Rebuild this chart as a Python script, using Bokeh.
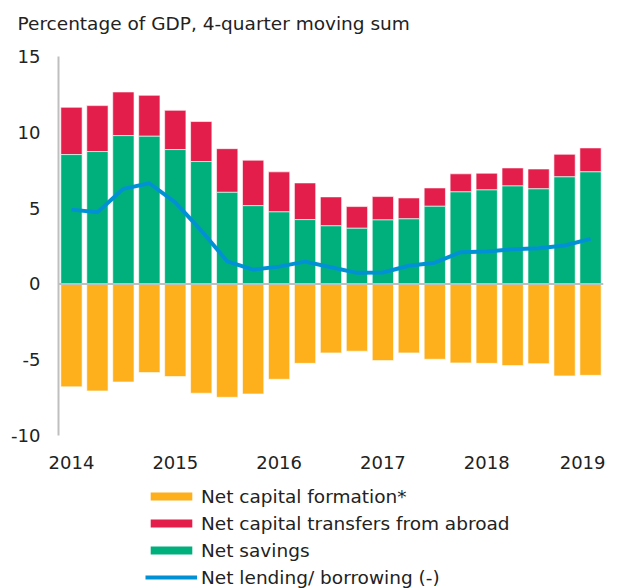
from bokeh.plotting import figure
from bokeh.layouts import column
from bokeh.models import ColumnDataSource, Span, Legend, LegendItem, FixedTicker, Range1d, Title
from bokeh.embed import file_html
from bokeh.resources import INLINE

# ---- data (percentage of GDP, 4-quarter moving sum) ----
quarter_index = list(range(21))  # 2014Q1 ... 2019Q1
net_savings = [8.53, 8.73, 9.78, 9.74, 8.86, 8.07, 6.04, 5.16, 4.75, 4.24, 3.83,
               3.67, 4.22, 4.29, 5.12, 6.07, 6.20, 6.46, 6.27, 7.06, 7.39]
net_capital_transfers = [3.12, 3.03, 2.88, 2.70, 2.59, 2.64, 2.88, 3.00, 2.64, 2.42, 1.91,
                         1.43, 1.54, 1.38, 1.21, 1.19, 1.10, 1.19, 1.31, 1.49, 1.58]
net_capital_formation = [-6.79, -7.06, -6.47, -5.85, -6.11, -7.21, -7.48, -7.26, -6.29, -5.24, -4.55,
                         -4.44, -5.06, -4.55, -4.97, -5.21, -5.24, -5.39, -5.26, -6.07, -6.03]
net_lending = [4.90, 4.73, 6.27, 6.64, 5.38, 3.52, 1.49, 0.94, 1.14, 1.47, 1.10,
               0.73, 0.75, 1.20, 1.40, 2.09, 2.13, 2.28, 2.35, 2.53, 2.97]
year_tick_positions = [0, 4, 8, 12, 16, 20]
year_labels = ["2014", "2015", "2016", "2017", "2018", "2019"]
y_ticks = [-10, -5, 0, 5, 10, 15]
legend_labels = ["Net capital formation*", "Net capital transfers from abroad",
                 "Net savings", "Net lending/ borrowing (-)"]
chart_title = "Percentage of GDP, 4-quarter moving sum"

ORANGE = "#FDB01B"
RED = "#E31E4B"
GREEN = "#00B07C"
BLUE = "#0091D5"
FONT = "DejaVu Sans"
TXT = "#222222"

src = ColumnDataSource(dict(
    x=quarter_index,
    sav_bottom=[0] * len(quarter_index),
    sav_top=net_savings,
    tr_bottom=net_savings,
    tr_top=[s + t for s, t in zip(net_savings, net_capital_transfers)],
    cf_top=[0] * len(quarter_index),
    cf_bottom=net_capital_formation,
    lend=net_lending,
))

p = figure(width=605, height=480, output_backend="svg", toolbar_location=None,
           x_range=Range1d(-0.5, 20.5), y_range=Range1d(-10, 15),
           min_border_left=58, min_border_right=2, min_border_top=56,
           min_border_bottom=45)

# spacer title (closest to the frame), then the real title above it
p.add_layout(Title(text=" ", text_font=FONT, text_font_size="16px", standoff=2), "above")
p.add_layout(Title(text=chart_title, text_font=FONT, text_font_size="18.5px",
                   text_font_style="normal", text_color=TXT, align="left",
                   offset=-41, standoff=0), "above")

bar_kw = dict(width=0.82, line_color="white", line_width=1, line_alpha=0.6)
r_cf = p.vbar(x="x", top="cf_top", bottom="cf_bottom", fill_color=ORANGE, source=src, **bar_kw)
r_tr = p.vbar(x="x", top="tr_top", bottom="tr_bottom", fill_color=RED, source=src, **bar_kw)
r_sav = p.vbar(x="x", top="sav_top", bottom="sav_bottom", fill_color=GREEN, source=src, **bar_kw)
r_line = p.line(x="x", y="lend", source=src, line_color=BLUE, line_width=4, line_join="round")

p.add_layout(Span(location=0, dimension="width", line_color="#BFBFBF", line_width=2))

p.xgrid.visible = False
p.ygrid.visible = False
p.outline_line_color = None

p.xaxis.ticker = FixedTicker(ticks=year_tick_positions)
p.xaxis.major_label_overrides = {t: l for t, l in zip(year_tick_positions, year_labels)}
p.xaxis.axis_line_color = None
p.xaxis.major_tick_line_color = None
p.xaxis.minor_tick_line_color = None
p.xaxis.major_tick_out = 0
p.xaxis.major_tick_in = 0
p.xaxis.minor_tick_out = 0
p.xaxis.major_label_standoff = 20
p.xaxis.major_label_text_font = FONT
p.xaxis.major_label_text_font_size = "18px"
p.xaxis.major_label_text_color = TXT

p.yaxis.ticker = FixedTicker(ticks=y_ticks)
p.yaxis.major_label_overrides = {t: str(t) for t in y_ticks}
p.yaxis.axis_line_color = "#BFBFBF"
p.yaxis.axis_line_width = 2
p.yaxis.major_tick_line_color = None
p.yaxis.minor_tick_line_color = None
p.yaxis.major_tick_out = 0
p.yaxis.major_tick_in = 0
p.yaxis.minor_tick_out = 0
p.yaxis.major_label_standoff = 18
p.yaxis.major_label_text_font = FONT
p.yaxis.major_label_text_font_size = "18px"
p.yaxis.major_label_text_color = TXT

# ---- legend panel (separate figure below the chart; its ranges show no data) ----
lg = figure(width=605, height=108, output_backend="svg", toolbar_location=None,
            x_range=Range1d(1000, 1001), y_range=Range1d(1000, 1001),
            x_axis_location=None, y_axis_location=None,
            min_border_left=0, min_border_right=0, min_border_top=0, min_border_bottom=0)
lg.grid.visible = False
lg.outline_line_color = None
l_cf = lg.vbar(x="x", top="cf_top", bottom="cf_bottom", width=0.82, fill_color=ORANGE, line_color=None, source=src)
l_tr = lg.vbar(x="x", top="tr_top", bottom="tr_bottom", width=0.82, fill_color=RED, line_color=None, source=src)
l_sav = lg.vbar(x="x", top="sav_top", bottom="sav_bottom", width=0.82, fill_color=GREEN, line_color=None, source=src)
l_line = lg.line(x="x", y="lend", source=src, line_color=BLUE, line_width=4)

legend = Legend(items=[LegendItem(label=lab, renderers=[r])
                       for lab, r in zip(legend_labels, [l_cf, l_tr, l_sav, l_line])],
                orientation="vertical", location=(87, 0), padding=0, margin=0, spacing=5,
                glyph_width=52, glyph_height=10, label_height=22, label_standoff=4,
                label_text_font=FONT, label_text_font_size="18.5px", label_text_color=TXT,
                border_line_alpha=0, background_fill_alpha=0)
lg.add_layout(legend, "center")

open("out.html", "w").write(file_html(column(p, lg, spacing=0), INLINE))
